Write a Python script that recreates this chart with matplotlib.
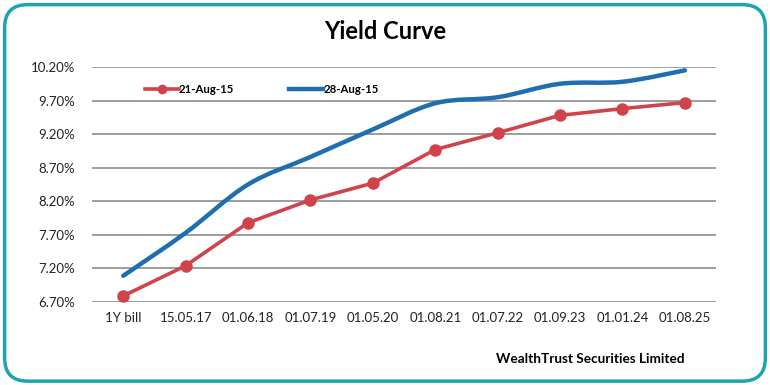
import numpy as np
import matplotlib
matplotlib.use("Agg")
import matplotlib.pyplot as plt
from matplotlib.path import Path
from matplotlib.patches import PathPatch, FancyBboxPatch
from matplotlib.lines import Line2D

# ----------------------------
# DATOS
# ----------------------------
categorias = ["1Y bill", "15.05.17", "01.06.18", "01.07.19", "01.05.20",
              "01.08.21", "01.07.22", "01.09.23", "01.01.24", "01.08.25"]
ago21 = [6.79, 7.24, 7.88, 8.22, 8.47, 8.97, 9.22, 9.48, 9.58, 9.67]
ago28 = [7.09, 7.73, 8.45, 8.86, 9.27, 9.66, 9.75, 9.95, 9.98, 10.15]
yticks = [6.70, 7.20, 7.70, 8.20, 8.70, 9.20, 9.70, 10.20]

ROJO = "#d0434a"
AZUL = "#1f6fb0"

plt.rcParams["font.family"] = ["Lato", "DejaVu Sans"]

fig = plt.figure(figsize=(7.7, 3.85), dpi=100)
ax = fig.add_axes([0.1195, 0.2156, 0.8105, 0.6104])

x = np.arange(len(categorias))

# curva suavizada (estilo Excel) con beziers cubicos
def curva_suave(xs, ys):
    pts = np.column_stack([xs, ys]).astype(float)
    n = len(pts)
    verts = [pts[0]]
    codes = [Path.MOVETO]
    for i in range(n - 1):
        p0 = pts[i - 1] if i > 0 else pts[i]
        p1 = pts[i]
        p2 = pts[i + 1]
        p3 = pts[i + 2] if i + 2 < n else pts[i + 1]
        c1 = p1 + (p2 - p0) / 6.0
        c2 = p2 - (p3 - p1) / 6.0
        verts += [c1, c2, p2]
        codes += [Path.CURVE4] * 3
    return Path(verts, codes)

ax.add_patch(PathPatch(curva_suave(x, ago28), facecolor="none",
                       edgecolor=AZUL, lw=3.2, capstyle="round", zorder=3))
ax.plot(x, ago21, "-o", color=ROJO, lw=2.6, markersize=8, zorder=4)

ax.set_xlim(-0.5, len(categorias) - 0.5)
ax.set_ylim(6.70, 10.20)
ax.set_yticks(yticks)
ax.set_yticklabels([f"{v:.2f}%" for v in yticks])
ax.set_xticks(x)
ax.set_xticklabels(categorias)
ax.grid(axis="y", color="#8c8c8c", lw=1.2)
ax.set_axisbelow(True)
for s in ax.spines.values():
    s.set_visible(False)
ax.tick_params(length=0, labelsize=9.5, colors="#222222")
ax.tick_params(axis="x", pad=7)
ax.tick_params(axis="y", pad=12)

handles = [Line2D([], [], color=ROJO, lw=2.6, marker="o", markersize=6),
           Line2D([], [], color=AZUL, lw=3.2)]
ax.legend(handles, ["21-Aug-15", "28-Aug-15"], loc="upper left",
          bbox_to_anchor=(0.068, 0.97), ncol=2, frameon=False,
          prop={"weight": "bold", "size": 8.2}, handlelength=3.0,
          handletextpad=0.0, columnspacing=4.8)

fig.text(0.5, 0.918, "Yield Curve", ha="center", va="center",
         fontsize=17, fontweight="bold")
fig.text(0.766, 0.067, "WealthTrust Securities Limited", ha="center",
         va="center", fontsize=9.8, fontweight="bold")

# marco redondeado
marco = FancyBboxPatch((0.006, 0.01), 0.988, 0.978,
                       boxstyle="round,pad=0,rounding_size=0.03",
                       transform=fig.transFigure, facecolor="none",
                       edgecolor="#1ea3b2", lw=2.5, mutation_aspect=2.0)
fig.patches.append(marco)

fig.savefig("out.png", dpi=100)
